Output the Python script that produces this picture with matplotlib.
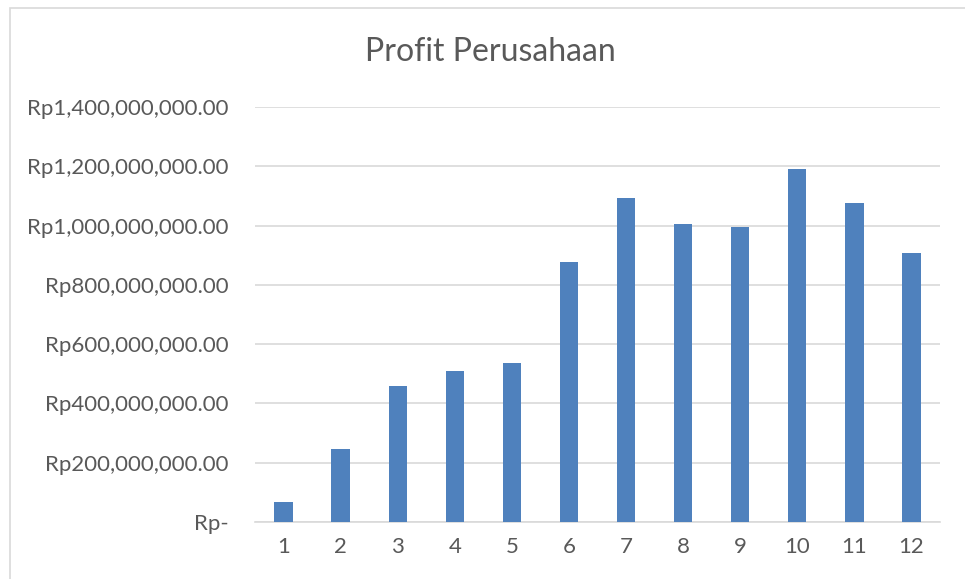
import matplotlib
matplotlib.use("Agg")
import matplotlib.pyplot as plt
from matplotlib.patches import Rectangle
from matplotlib.ticker import FuncFormatter

# data
months = [1, 2, 3, 4, 5, 6, 7, 8, 9, 10, 11, 12]
profit = [67e6, 247e6, 459e6, 509e6, 536e6, 877e6,
          1093e6, 1005e6, 996e6, 1190e6, 1077e6, 908e6]
y_ticks = [0, 200e6, 400e6, 600e6, 800e6, 1000e6, 1200e6, 1400e6]

plt.rcParams['font.family'] = ['Lato', 'DejaVu Sans']

fig = plt.figure(figsize=(9.65, 5.79), dpi=100)
fig.patch.set_facecolor('white')

# chart border (Excel chart area frame)
fig.add_artist(Rectangle((10 / 965, -0.01), 1.0, 1 - 8 / 579 + 0.01,
                         transform=fig.transFigure, fill=False,
                         edgecolor='#d9d9d9', linewidth=1.2))

ax = fig.add_axes([255 / 965, 1 - 522 / 579, 685 / 965, (522 - 107) / 579])

ax.bar(months, profit, width=0.32, color='#4f81bd', zorder=3)

ax.set_xlim(0.5, 12.5)
ax.set_ylim(0, 1400e6)
ax.set_yticks(y_ticks)
ax.set_xticks(months)


def rp_fmt(v, pos):
    if v == 0:
        return 'Rp-'
    return 'Rp{:,.2f}'.format(v)


ax.yaxis.set_major_formatter(FuncFormatter(rp_fmt))
ax.yaxis.grid(True, color='#d9d9d9', linewidth=1.2, zorder=0)
ax.tick_params(axis='both', length=0, labelsize=16, colors='#595959')
ax.tick_params(axis='y', pad=19)
ax.tick_params(axis='x', pad=11)
for s in ['top', 'right', 'left']:
    ax.spines[s].set_visible(False)
ax.spines['bottom'].set_color('#d9d9d9')
ax.spines['bottom'].set_linewidth(1.2)

fig.text(490 / 965, 1 - 52 / 579, 'Profit Perusahaan', ha='center', va='center',
         fontsize=23, color='#595959')

fig.savefig('out.png', dpi=100, facecolor='white')
